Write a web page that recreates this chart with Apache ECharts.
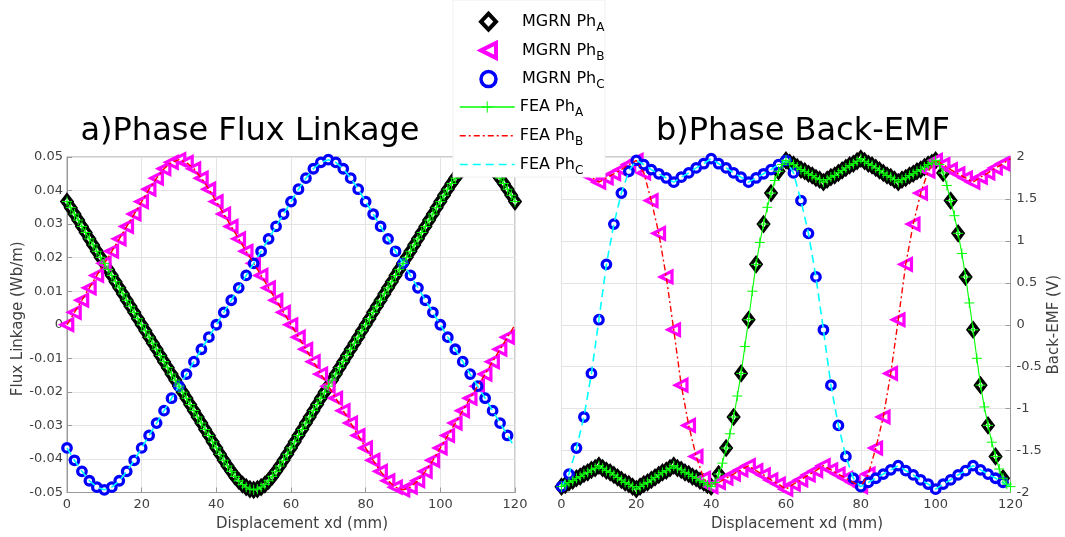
<!DOCTYPE html>
<html><head><meta charset="utf-8">
<script src="https://cdn.jsdelivr.net/npm/echarts@6/dist/echarts.min.js"></script>
<style>html,body{margin:0;padding:0;background:#fff}#c{width:1065px;height:537px}</style>
</head><body><div id="c"></div>
<script>
// ---------- helpers for sample positions ----------
const range = (a, b, s) => { const r = []; for (let v = a; v <= b + 1e-9; v += s) r.push(Math.round(v * 100) / 100); return r; };
const zip = (xs, ys) => xs.map((x, i) => [x, ys[i]]);

// ---------- x sample positions (mm) ----------
const xFine = range(0, 120, 1);      // FEA Ph_A and dense MGRN Ph_A
const xCoarse = range(0, 120, 2);    // FEA Ph_B / Ph_C
const xMarkers = range(0, 118, 2);   // MGRN Ph_B / Ph_C markers
const emfAMgrnX = [].concat(range(0, 40, 1), range(42, 58, 2), range(60, 100, 1), range(102, 118, 2));

const xTicks = [0, 20, 40, 60, 80, 100, 120];

// ---------- a) Flux linkage (Wb/m) ----------
const fluxA = [0.0367,0.0349,0.0330,0.0312,0.0293,0.0275,0.0256,0.0238,0.0219,0.0201,
0.0183,0.0165,0.0147,0.0128,0.0110,0.0092,0.0073,0.0055,0.0037,0.0018,
0.0000,-0.0018,-0.0037,-0.0055,-0.0073,-0.0092,-0.0110,-0.0128,-0.0147,-0.0165,
-0.0183,-0.0201,-0.0219,-0.0238,-0.0256,-0.0275,-0.0293,-0.0312,-0.0330,-0.0349,
-0.0367,-0.0386,-0.0404,-0.0421,-0.0437,-0.0452,-0.0465,-0.0476,-0.0484,-0.0490,
-0.0492,-0.0490,-0.0484,-0.0476,-0.0465,-0.0452,-0.0437,-0.0421,-0.0404,-0.0386,
-0.0367,-0.0349,-0.0330,-0.0312,-0.0293,-0.0275,-0.0256,-0.0238,-0.0219,-0.0201,
-0.0183,-0.0165,-0.0147,-0.0128,-0.0110,-0.0092,-0.0073,-0.0055,-0.0037,-0.0018,
0.0000,0.0018,0.0037,0.0055,0.0073,0.0092,0.0110,0.0128,0.0147,0.0165,
0.0183,0.0201,0.0219,0.0238,0.0256,0.0275,0.0293,0.0312,0.0330,0.0349,
0.0367,0.0386,0.0404,0.0421,0.0437,0.0452,0.0465,0.0476,0.0484,0.0490,
0.0492,0.0490,0.0484,0.0476,0.0465,0.0452,0.0437,0.0421,0.0404,0.0386,
0.0367];
const fluxB = [0.0000,0.0037,0.0073,0.0110,0.0147,0.0183,0.0219,0.0256,0.0293,0.0330,
0.0367,0.0404,0.0437,0.0465,0.0484,0.0492,0.0484,0.0465,0.0437,0.0404,
0.0367,0.0330,0.0293,0.0256,0.0219,0.0183,0.0147,0.0110,0.0073,0.0037,
0.0000,-0.0037,-0.0073,-0.0110,-0.0147,-0.0183,-0.0219,-0.0256,-0.0293,-0.0330,
-0.0367,-0.0404,-0.0437,-0.0465,-0.0484,-0.0492,-0.0484,-0.0465,-0.0437,-0.0404,
-0.0367,-0.0330,-0.0293,-0.0256,-0.0219,-0.0183,-0.0147,-0.0110,-0.0073,-0.0037,
0.0000];
const fluxC = [-0.0367,-0.0404,-0.0437,-0.0465,-0.0484,-0.0492,-0.0484,-0.0465,-0.0437,-0.0404,
-0.0367,-0.0330,-0.0293,-0.0256,-0.0219,-0.0183,-0.0147,-0.0110,-0.0073,-0.0037,
0.0000,0.0037,0.0073,0.0110,0.0147,0.0183,0.0219,0.0256,0.0293,0.0330,
0.0367,0.0404,0.0437,0.0465,0.0484,0.0492,0.0484,0.0465,0.0437,0.0404,
0.0367,0.0330,0.0293,0.0256,0.0219,0.0183,0.0147,0.0110,0.0073,0.0037,
0.0000,-0.0037,-0.0073,-0.0110,-0.0147,-0.0183,-0.0219,-0.0256,-0.0293,-0.0330,
-0.0367];

// ---------- b) Back-EMF (V) ----------
const emfAFea = [-1.93,-1.91,-1.88,-1.86,-1.83,-1.81,-1.78,-1.76,-1.73,-1.71,
-1.68,-1.71,-1.74,-1.76,-1.79,-1.82,-1.85,-1.88,-1.90,-1.93,
-1.96,-1.93,-1.90,-1.88,-1.85,-1.82,-1.79,-1.76,-1.74,-1.71,
-1.68,-1.71,-1.73,-1.76,-1.78,-1.81,-1.83,-1.86,-1.88,-1.91,
-1.93,-1.88,-1.78,-1.65,-1.47,-1.30,-1.10,-0.85,-0.58,-0.26,
0.06,0.40,0.72,0.98,1.20,1.40,1.57,1.72,1.83,1.91,
1.96,1.93,1.91,1.88,1.85,1.83,1.80,1.78,1.75,1.73,
1.70,1.73,1.76,1.78,1.81,1.84,1.87,1.90,1.92,1.95,
1.98,1.95,1.92,1.90,1.87,1.84,1.81,1.78,1.76,1.73,
1.70,1.73,1.75,1.78,1.80,1.83,1.85,1.88,1.91,1.93,
1.96,1.91,1.81,1.66,1.48,1.30,1.09,0.85,0.57,0.26,
-0.06,-0.40,-0.72,-0.98,-1.20,-1.40,-1.57,-1.72,-1.83,-1.90,
-1.93];
const emfAMgrn = [-1.93,-1.91,-1.88,-1.86,-1.83,-1.81,-1.78,-1.76,-1.73,-1.71,
-1.68,-1.71,-1.74,-1.76,-1.79,-1.82,-1.85,-1.88,-1.90,-1.93,
-1.96,-1.93,-1.90,-1.88,-1.85,-1.82,-1.79,-1.76,-1.74,-1.71,
-1.68,-1.71,-1.73,-1.76,-1.78,-1.81,-1.83,-1.86,-1.88,-1.91,
-1.93,
-1.78,-1.47,-1.10,-0.58,0.06,0.72,1.20,1.57,1.83,
1.96,1.93,1.91,1.88,1.85,1.83,1.80,1.78,1.75,1.73,
1.70,1.73,1.76,1.78,1.81,1.84,1.87,1.90,1.92,1.95,
1.98,1.95,1.92,1.90,1.87,1.84,1.81,1.78,1.76,1.73,
1.70,1.73,1.75,1.78,1.80,1.83,1.85,1.88,1.91,1.93,
1.96,
1.81,1.48,1.09,0.57,-0.06,-0.72,-1.20,-1.57,-1.83];
const emfB = [1.98,1.92,1.87,1.81,1.76,1.70,1.75,1.80,1.85,1.91,
1.96,1.81,1.48,1.09,0.57,-0.06,-0.72,-1.20,-1.57,-1.83,
-1.93,-1.88,-1.83,-1.78,-1.73,-1.68,-1.74,-1.79,-1.85,-1.90,
-1.96,-1.90,-1.85,-1.79,-1.74,-1.68,-1.73,-1.78,-1.83,-1.88,
-1.93,-1.78,-1.47,-1.10,-0.58,0.06,0.72,1.20,1.57,1.83,
1.96,1.91,1.85,1.80,1.75,1.70,1.76,1.81,1.87,1.92,
1.98];
const emfC = [-1.93,-1.78,-1.47,-1.10,-0.58,0.06,0.72,1.20,1.57,1.83,
1.96,1.91,1.85,1.80,1.75,1.70,1.76,1.81,1.87,1.92,
1.98,1.92,1.87,1.81,1.76,1.70,1.75,1.80,1.85,1.91,
1.96,1.81,1.48,1.09,0.57,-0.06,-0.72,-1.20,-1.57,-1.83,
-1.93,-1.88,-1.83,-1.78,-1.73,-1.68,-1.74,-1.79,-1.85,-1.90,
-1.96,-1.90,-1.85,-1.79,-1.74,-1.68,-1.73,-1.78,-1.83,-1.88,
-1.93];

// ---------- text ----------
const titles = ['a)Phase Flux Linkage', 'b)Phase Back-EMF'];
const xName = 'Displacement xd (mm)';
const yNames = ['Flux Linkage (Wb/m)', 'Back-EMF (V)'];
const mgrnNames = ['MGRN Ph_A', 'MGRN Ph_B', 'MGRN Ph_C'];
const feaNames = ['FEA Ph_A', 'FEA Ph_B', 'FEA Ph_C'];

// ---------- style ----------
const FF = 'DejaVu Sans';
const axisGray = '#9a9a9a';
const labelGray = '#404040';
const gridGray = '#e4e4e4';
const SYM = {
  diamond: 'diamond',
  triLeft: 'path://M0,5L10,0L10,10Z',
  plus: 'path://M5,0L5,10M0,5L10,5'
};
const mgrnStyle = [
  { symbol: SYM.diamond, symbolSize: [10, 13], itemStyle: { color: '#ffffff', borderColor: '#000000', borderWidth: 3.5, opacity: 1 } },
  { symbol: SYM.triLeft, symbolSize: 11.5, itemStyle: { color: '#ffffff', borderColor: '#ff00ff', borderWidth: 3.2, opacity: 1 } },
  { symbol: 'circle', symbolSize: 8.5, itemStyle: { color: '#ffffff', borderColor: '#0000ff', borderWidth: 3.3, opacity: 1 } }
];
const feaStyle = [
  { symbol: SYM.plus, symbolSize: 10, showSymbol: true, itemStyle: { color: '#00ff00', borderColor: '#00ff00', borderWidth: 1 }, lineStyle: { color: '#00ff00', width: 1.1 } },
  { symbol: 'none', itemStyle: { color: '#ff0000' }, lineStyle: { color: '#ff0000', width: 1.4, type: [6, 3, 2, 3] } },
  { symbol: 'none', itemStyle: { color: '#00ffff' }, lineStyle: { color: '#00ffff', width: 1.6, type: [8, 5] } }
];
const legendMgrnItem = [
  { color: '#ffffff', borderColor: '#000000', borderWidth: 4 },
  { color: '#ffffff', borderColor: '#ff00ff', borderWidth: 4 },
  { color: '#ffffff', borderColor: '#0000ff', borderWidth: 3.5 }
];
const legendFeaItem = [
  { color: '#00ff00', borderColor: '#00ff00', borderWidth: 1 },
  { color: 'rgba(0,0,0,0)', borderColor: 'rgba(0,0,0,0)', borderWidth: 0, opacity: 0 },
  { color: 'rgba(0,0,0,0)', borderColor: 'rgba(0,0,0,0)', borderWidth: 0, opacity: 0 }
];

const gridBox = { show: true, borderColor: axisGray, borderWidth: 1, backgroundColor: 'transparent' };
const grids = [
  Object.assign({ left: 67, top: 157, width: 448, height: 335.5 }, gridBox),
  Object.assign({ left: 561.5, top: 157, width: 449, height: 335.5 }, gridBox)
];

function xAxisCfg(gi) {
  return {
    gridIndex: gi, type: 'value', min: 0, max: 120, interval: 20,
    axisLine: { show: true, onZero: false, lineStyle: { color: axisGray, width: 1 } },
    axisTick: { show: true, inside: true, length: 5, lineStyle: { color: axisGray } },
    axisLabel: { margin: 6, fontSize: 13, color: labelGray, fontFamily: FF,
      formatter: v => String(v) },
    splitLine: { show: true, lineStyle: { color: gridGray, width: 1 } },
    name: xName, nameLocation: 'middle', nameGap: 24,
    nameTextStyle: { fontSize: 15, color: labelGray, fontFamily: FF, padding: [0, 0, 0, 22] }
  };
}

const option = {
  animation: false,
  grid: grids,
  xAxis: [xAxisCfg(0), xAxisCfg(1)],
  yAxis: [
    {
      gridIndex: 0, type: 'value', position: 'left', min: -0.05, max: 0.05, interval: 0.01,
      axisLine: { show: true, onZero: false, lineStyle: { color: axisGray, width: 1 } },
      axisTick: { show: true, inside: true, length: 5, lineStyle: { color: axisGray } },
      axisLabel: { margin: 4, fontSize: 13, color: labelGray, fontFamily: FF,
        formatter: v => String(Number(v.toFixed(2))) },
      splitLine: { show: true, lineStyle: { color: gridGray, width: 1 } },
      name: yNames[0], nameLocation: 'middle', nameGap: 41,
      nameTextStyle: { fontSize: 15, color: labelGray, fontFamily: FF, padding: [0, 0, 0, 12] }
    },
    {
      gridIndex: 1, type: 'value', position: 'right', min: -2, max: 2, interval: 0.5,
      axisLine: { show: true, onZero: false, lineStyle: { color: axisGray, width: 1 } },
      axisTick: { show: true, inside: true, length: 5, lineStyle: { color: axisGray } },
      axisLabel: { margin: 6, fontSize: 13, color: labelGray, fontFamily: FF,
        formatter: v => String(Number(v.toFixed(1))) },
      splitLine: { show: true, lineStyle: { color: gridGray, width: 1 } },
      name: yNames[1], nameLocation: 'middle', nameGap: 36,
      nameTextStyle: { fontSize: 15, color: labelGray, fontFamily: FF }
    }
  ],
  graphic: [
    { type: 'rect', z: 50, shape: { x: 453, y: 0, width: 152, height: 177 },
      style: { fill: '#ffffff', stroke: '#f0f0f0', lineWidth: 1 } },
    { type: 'text', z: 50, x: 250, y: 132,
      style: { text: titles[0], fontSize: 32, fontFamily: FF, fill: '#000', textAlign: 'center', align: 'center', textVerticalAlign: 'middle', verticalAlign: 'middle' } },
    { type: 'text', z: 50, x: 803, y: 132,
      style: { text: titles[1], fontSize: 32, fontFamily: FF, fill: '#000', textAlign: 'center', align: 'center', textVerticalAlign: 'middle', verticalAlign: 'middle' } }
  ],
  legend: [],
  series: []
};

const legendText = {
  fontSize: 16, color: '#000', fontFamily: FF, lineHeight: 24,
  rich: {
    sub: { fontSize: 12, fontFamily: FF, color: '#000', lineHeight: 9, verticalAlign: 'bottom' },
    sp: { width: 21, fontSize: 16, lineHeight: 24 }
  }
};
const fmtName = n => n.replace(/_([A-C])$/, '{sub|$1}');

option.legend.push({
  z: 60, orient: 'vertical', left: 479, top: 9.7, padding: 0,
  itemWidth: 15, itemHeight: 16, itemGap: 4.7, selectedMode: false,
  data: mgrnNames.map((n, i) => ({ name: n, itemStyle: legendMgrnItem[i] })),
  formatter: n => '{sp| }' + fmtName(n),
  textStyle: legendText
});
option.legend.push({
  z: 60, orient: 'vertical', left: 459, top: 95, padding: 0,
  itemWidth: 55, itemHeight: 14, itemGap: 4.7, selectedMode: false,
  lineStyle: { width: 1.5 },
  data: feaNames.map((n, i) => ({ name: n, itemStyle: legendFeaItem[i] })),
  formatter: n => fmtName(n),
  textStyle: legendText
});

// ---------- series ----------
const fluxMgrn = [zip(xFine, fluxA), zip(xMarkers, fluxB), zip(xMarkers, fluxC)];
const fluxFea = [zip(xFine, fluxA), zip(xCoarse, fluxB), zip(xCoarse, fluxC)];
const emfMgrn = [zip(emfAMgrnX, emfAMgrn), zip(xMarkers, emfB), zip(xMarkers, emfC)];
const emfFea = [zip(xFine, emfAFea), zip(xCoarse, emfB), zip(xCoarse, emfC)];

[[fluxMgrn, fluxFea, 0], [emfMgrn, emfFea, 1]].forEach(([mg, fe, gi]) => {
  mg.forEach((d, i) => {
    option.series.push(Object.assign({
      type: 'scatter', name: mgrnNames[i], xAxisIndex: gi, yAxisIndex: gi,
      data: d, clip: false, silent: true, z: 2
    }, mgrnStyle[i]));
  });
  fe.forEach((d, i) => {
    option.series.push(Object.assign({
      type: 'line', name: feaNames[i], xAxisIndex: gi, yAxisIndex: gi,
      data: d, clip: false, silent: true, smooth: false, z: 3
    }, feaStyle[i]));
  });
});

const chart = echarts.init(document.getElementById('c'), null, { renderer: 'canvas' });
chart.setOption(option);
</script>
</body></html>
